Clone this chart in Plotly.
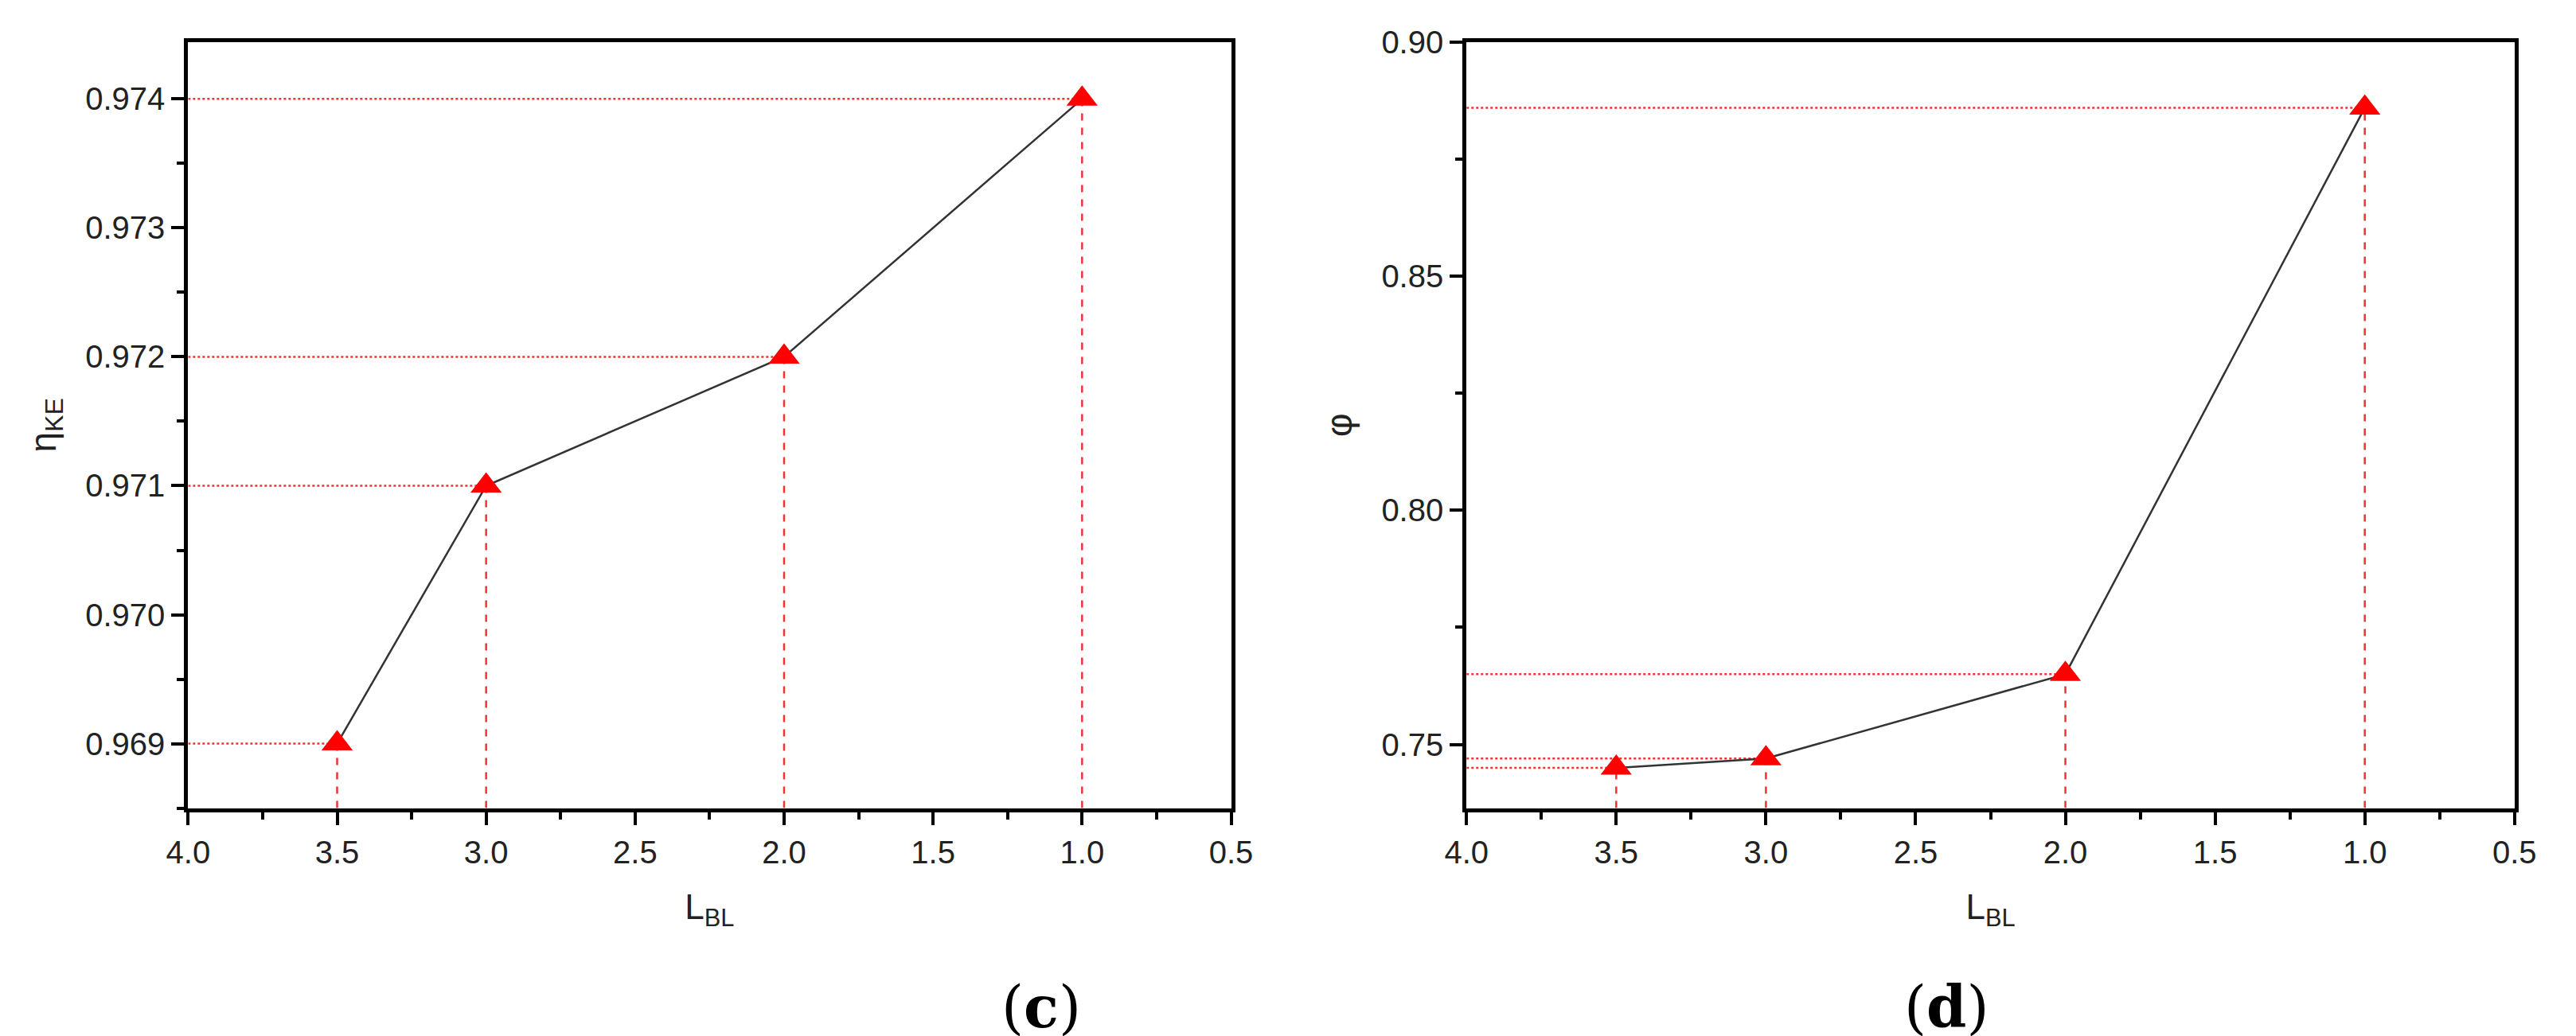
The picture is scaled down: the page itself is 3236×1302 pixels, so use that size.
import plotly.graph_objects as go

L_BL = [3.5, 3.0, 2.0, 1.0]
eta_KE = [0.969, 0.971, 0.972, 0.974]
phi = [0.745, 0.747, 0.765, 0.886]
x_ticks = [4.0, 3.5, 3.0, 2.5, 2.0, 1.5, 1.0, 0.5]
eta_ticks = [0.969, 0.970, 0.971, 0.972, 0.973, 0.974]
phi_ticks = [0.75, 0.80, 0.85, 0.90]

XR = [4.0, 0.5]
YR1 = [0.9685, 0.97444]
YR2 = [0.7364, 0.900]

fig = go.Figure()
FONT = "Liberation Sans, Arial, sans-serif"

def add_panel(ys, xa, ya, yr):
    for xv, yv in zip(L_BL, ys):
        fig.add_trace(go.Scatter(x=[XR[0], xv], y=[yv, yv], mode="lines", xaxis=xa, yaxis=ya,
                                 line=dict(color="#ee3333", width=2.5, dash="dot"), showlegend=False))
        fig.add_trace(go.Scatter(x=[xv, xv], y=[yr[0], yv], mode="lines", xaxis=xa, yaxis=ya,
                                 line=dict(color="#ee3333", width=2.5, dash="dash"), showlegend=False))
    fig.add_trace(go.Scatter(x=L_BL, y=ys, mode="lines+markers", xaxis=xa, yaxis=ya,
                             line=dict(color="#333333", width=2.5),
                             marker=dict(symbol="triangle-up", size=34, color="#ff0000"),
                             showlegend=False))

add_panel(eta_KE, "x", "y", YR1)
add_panel(phi, "x2", "y2", YR2)

axis_common = dict(showgrid=False, zeroline=False, showline=True, linecolor="black", linewidth=5,
                   mirror=True, ticks="outside", ticklen=16, tickwidth=4, tickcolor="black",
                   tickfont=dict(family=FONT, size=40, color="#222"))
xcommon = dict(axis_common, range=XR, tickvals=x_ticks, ticktext=[f"{v:.1f}" for v in x_ticks],
               minor=dict(dtick=0.25, ticks="outside", ticklen=9, tickwidth=4, tickcolor="black"),
               title=dict(text="L<sub>BL</sub>", font=dict(family=FONT, size=44, color="#222"), standoff=34))

fig.update_layout(
    width=3236, height=1302, margin=dict(l=0, r=0, t=0, b=0),
    plot_bgcolor="white", paper_bgcolor="white",
    xaxis=dict(xcommon, domain=[0.063, 0.475], anchor="y"),
    yaxis=dict(axis_common, domain=[0.23, 0.982], range=YR1, tickvals=eta_ticks,
               ticktext=[f"{v:.3f}" for v in eta_ticks], anchor="x",
               minor=dict(dtick=0.0005, tick0=0.969, ticks="outside", ticklen=9, tickwidth=4, tickcolor="black"),
               title=dict(text="η<sub>KE</sub>", font=dict(family=FONT, size=46, color="#222"), standoff=24)),
    xaxis2=dict(xcommon, domain=[0.568, 0.982], anchor="y2"),
    yaxis2=dict(axis_common, domain=[0.23, 0.982], range=YR2, tickvals=phi_ticks,
                ticktext=[f"{v:.2f}" for v in phi_ticks], anchor="x2",
                minor=dict(dtick=0.025, tick0=0.75, ticks="outside", ticklen=9, tickwidth=4, tickcolor="black"),
                title=dict(text="φ", font=dict(family=FONT, size=46, color="#222"), standoff=24)),
    annotations=[
        dict(text="(<b>c</b>)", x=0.4, y=0.0, yanchor="bottom", xref="paper", yref="paper", showarrow=False,
             font=dict(family="DejaVu Serif, Liberation Serif, serif", size=72, color="black")),
        dict(text="(<b>d</b>)", x=0.775, y=0.0, yanchor="bottom", xref="paper", yref="paper", showarrow=False,
             font=dict(family="DejaVu Serif, Liberation Serif, serif", size=72, color="black")),
    ],
)

fig.write_html("out.html")
